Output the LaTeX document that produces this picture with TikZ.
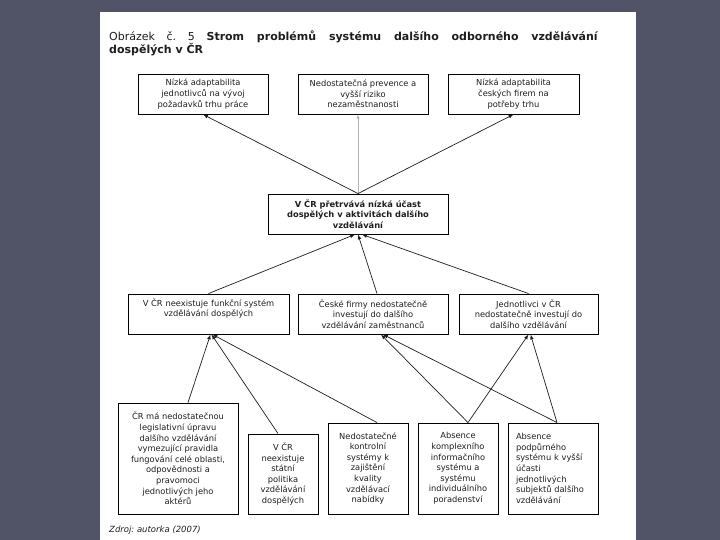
\documentclass[tikz,border=0pt]{standalone}
\usepackage{fontspec}
\setmainfont{DejaVu Sans}
\usepackage{tikz}
\definecolor{slide}{RGB}{80,84,102}
\definecolor{ink}{RGB}{30,30,30}
\frenchspacing

\begin{document}
\begin{tikzpicture}[x=1pt, y=-1pt, >=latex,
    box/.style={draw=black, line width=0.9pt, inner sep=0pt, align=center,
      text=ink, font=\fontsize{8.3}{10.6}\selectfont},
    link/.style={->, draw=ink, line width=0.7pt}]
  % slide and page
  \fill[slide] (0,0) rectangle (720,540);
  \fill[white] (100,12) rectangle (636,540);
  \useasboundingbox (0,0) rectangle (720,540);

  \node (title) [anchor=north west, inner sep=0pt, text=ink,
    font=\fontsize{11}{13}\selectfont] at (109,31)
    {\parbox{489pt}{Obrázek č. 5 \textbf{Strom problémů systému dalšího odborného vzdělávání}\linebreak
      \textbf{dospělých v ČR}}};

  % effects
  \node (top1) [box, minimum width=130pt, minimum height=40pt] at (203,94)
    {Nízká adaptabilita\\ jednotlivců na vývoj\\ požadavků trhu práce};
  \node (top2) [box, minimum width=130pt, minimum height=40pt] at (363,94)
    {Nedostatečná prevence a\\ vyšší riziko\\ nezaměstnanosti};
  \node (top3) [box, minimum width=131pt, minimum height=40pt] at (513.5,94)
    {Nízká adaptabilita\\ českých firem na\\ potřeby trhu};

  % core problem
  \node (core) [box, minimum width=180pt, minimum height=40pt, font=\fontsize{8.3}{10.6}\selectfont\bfseries] at (358,214)
    {V ČR přetrvává nízká účast\\ dospělých v aktivitách dalšího\\ vzdělávání};

  % causes
  \node (mid1) [box, text width=161pt, inner ysep=3pt, text height=9pt, text depth=25pt] at (208.5,314)
    {V ČR neexistuje funkční systém\\ vzdělávání dospělých};
  \node (mid2) [box, minimum width=150pt, minimum height=40pt] at (373,314)
    {České firmy nedostatečně\\ investují do dalšího\\ vzdělávání zaměstnanců};
  \node (mid3) [box, minimum width=139pt, minimum height=40pt] at (528.5,314)
    {Jednotlivci v ČR\\ nedostatečně investují do\\ dalšího vzdělávání};

  % root causes
  \node (bot1) [box, minimum width=120pt, minimum height=111pt] at (178,458.5)
    {ČR má nedostatečnou\\ legislativní úpravu\\ dalšího vzdělávání\\ vymezující pravidla\\ fungování celé oblasti,\\
     odpovědnosti a\\ pravomoci\\ jednotlivých jeho\\ aktérů};
  \node (bot2) [box, minimum width=70pt, minimum height=80pt] at (283,474)
    {V ČR\\ neexistuje\\ státní\\ politika\\ vzdělávání\\ dospělých};
  \node (bot3) [box, minimum width=80pt, minimum height=91pt] at (368,468.5)
    {Nedostatečné\\ kontrolní\\ systémy k\\ zajištění\\ kvality\\ vzdělávací\\ nabídky};
  \node (bot4) [box, minimum width=80pt, minimum height=91pt] at (458,468.5)
    {Absence\\ komplexního\\ informačního\\ systému a\\ systému\\ individuálního\\ poradenství};
  \node (bot5) [box, align=left, text width=74pt, inner xsep=8pt, minimum height=91pt] at (553,468.5)
    {Absence\\ podpůrného\\ systému k vyšší\\ účasti\\ jednotlivých\\ subjektů dalšího\\ vzdělávání};

  \node (source) [anchor=west, inner sep=0pt, text=ink,
    font=\fontsize{8.5}{10}\selectfont\itshape] at (109,530) {Zdroj: autorka (2007)};

  % connectors
  \draw[link] (core.north) -- (top1.south);
  \draw[->, draw=gray!60, line width=0.5pt] (core.north) -- (core.north |- top2.south);
  \draw[link] (core.north) -- (top3.south);
  \draw[link] (mid1.north) -- ([xshift=-3pt]core.south);
  \draw[link] ([xshift=4pt]mid2.north) -- (core.south);
  \draw[link] (mid3.north) -- ([xshift=4pt]core.south);
  \draw[link] ([xshift=10pt]bot1.north) -- ([xshift=2pt]mid1.south);
  \draw[link] ([xshift=-5pt]bot2.north) -- ([xshift=3pt]mid1.south);
  \draw[link] ([xshift=9pt]bot3.north) -- ([xshift=4pt]mid1.south);
  \draw[link] ([xshift=10pt]bot4.north) -- ([xshift=8pt]mid2.south);
  \draw[link] ([xshift=4pt]bot5.north) -- ([xshift=10pt]mid2.south);
  \draw[link] ([xshift=10pt]bot4.north) -- (mid3.south);
  \draw[link] ([xshift=4pt]bot5.north) -- ([xshift=2pt]mid3.south);
\end{tikzpicture}
\end{document}
